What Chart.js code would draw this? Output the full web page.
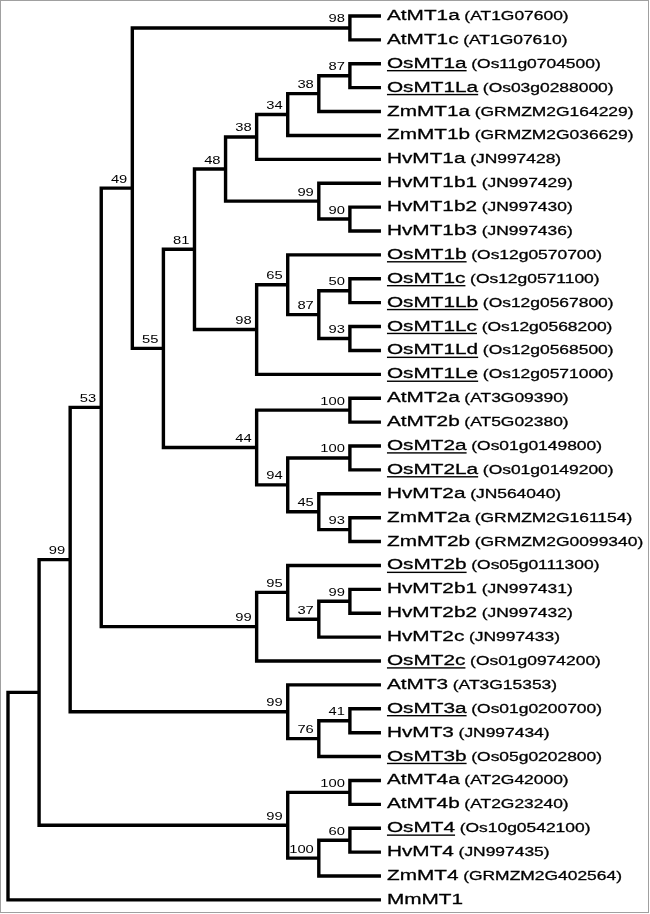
<!DOCTYPE html>
<html>
<head>
<meta charset="utf-8">
<script src="https://cdn.jsdelivr.net/npm/chart.js@4.4.0/dist/chart.umd.min.js"></script>
<style>
  html, body { margin: 0; padding: 0; background: #fff; }
  #wrap { position: relative; width: 650px; height: 914px; }
  #frame { position: absolute; left: 0; top: 0; width: 649px; height: 913px; box-sizing: border-box; border: 1px solid #a0a0a0; pointer-events: none; }
</style>
</head>
<body>
<div id="wrap"><canvas id="tree"></canvas><div id="frame"></div></div>
<script>
// leaves, top to bottom
const leafNames = [
    'AtMT1a', 'AtMT1c', 'OsMT1a', 'OsMT1La', 'ZmMT1a', 'ZmMT1b', 'HvMT1a', 'HvMT1b1',
    'HvMT1b2', 'HvMT1b3', 'OsMT1b', 'OsMT1c', 'OsMT1Lb', 'OsMT1Lc', 'OsMT1Ld', 'OsMT1Le',
    'AtMT2a', 'AtMT2b', 'OsMT2a', 'OsMT2La', 'HvMT2a', 'ZmMT2a', 'ZmMT2b', 'OsMT2b',
    'HvMT2b1', 'HvMT2b2', 'HvMT2c', 'OsMT2c', 'AtMT3', 'OsMT3a', 'HvMT3', 'OsMT3b',
    'AtMT4a', 'AtMT4b', 'OsMT4', 'HvMT4', 'ZmMT4', 'MmMT1'
];
const leafIds = [
    'AT1G07600', 'AT1G07610', 'Os11g0704500', 'Os03g0288000', 'GRMZM2G164229', 'GRMZM2G036629', 'JN997428', 'JN997429',
    'JN997430', 'JN997436', 'Os12g0570700', 'Os12g0571100', 'Os12g0567800', 'Os12g0568200', 'Os12g0568500', 'Os12g0571000',
    'AT3G09390', 'AT5G02380', 'Os01g0149800', 'Os01g0149200', 'JN564040', 'GRMZM2G161154', 'GRMZM2G0099340', 'Os05g0111300',
    'JN997431', 'JN997432', 'JN997433', 'Os01g0974200', 'AT3G15353', 'Os01g0200700', 'JN997434', 'Os05g0202800',
    'AT2G42000', 'AT2G23240', 'Os10g0542100', 'JN997435', 'GRMZM2G402564', ''
];

// internal nodes: id, depth level, bootstrap, children
const nodeIds      = ['n1','n2','n3','n4','n5','n6','n7','n8','n9','n10','n11','n12','n13','n14','n15','n16','n17','n18','n19',
                      'n20','n21','n22','n23','n24','n25','n26','n27','n28','n29','n30','n31','n32','n33','n34','n35','n36','root'];
const nodeLevel    = [11, 11, 10, 9, 8, 11, 10, 7, 11, 11, 10, 9, 8, 6, 11, 11, 11, 10, 9,
                      8, 5, 4, 11, 10, 9, 8, 3, 11, 10, 9, 2, 11, 11, 10, 9, 1, 0];
const nodeSupport  = [98, 87, 38, 34, 38, 90, 99, 48, 50, 93, 87, 65, 98, 81, 100, 100, 93, 45, 94,
                      44, 55, 49, 99, 37, 95, 99, 53, 41, 76, 99, 99, 100, 60, 100, 99, null, null];
const nodeChildren = [
    ['AtMT1a', 'AtMT1c'], ['OsMT1a', 'OsMT1La'], ['n2', 'ZmMT1a'], ['n3', 'ZmMT1b'], ['n4', 'HvMT1a'],
    ['HvMT1b2', 'HvMT1b3'], ['HvMT1b1', 'n6'], ['n5', 'n7'], ['OsMT1c', 'OsMT1Lb'], ['OsMT1Lc', 'OsMT1Ld'],
    ['n9', 'n10'], ['OsMT1b', 'n11'], ['n12', 'OsMT1Le'], ['n8', 'n13'], ['AtMT2a', 'AtMT2b'],
    ['OsMT2a', 'OsMT2La'], ['ZmMT2a', 'ZmMT2b'], ['HvMT2a', 'n17'], ['n16', 'n18'], ['n15', 'n19'],
    ['n14', 'n20'], ['n1', 'n21'], ['HvMT2b1', 'HvMT2b2'], ['n23', 'HvMT2c'], ['OsMT2b', 'n24'],
    ['n25', 'OsMT2c'], ['n22', 'n26'], ['OsMT3a', 'HvMT3'], ['n28', 'OsMT3b'], ['AtMT3', 'n29'],
    ['n27', 'n30'], ['AtMT4a', 'AtMT4b'], ['OsMT4', 'HvMT4'], ['n33', 'ZmMT4'], ['n32', 'n34'],
    ['n31', 'n35'], ['n36', 'MmMT1']
];
const LEAF_LEVEL = 12;

// positions in data units: x = level, y = leaf row
const pos = {};
leafNames.forEach((n, i) => { pos[n] = { x: LEAF_LEVEL, y: i }; });
function place(id) {
    if (pos[id]) return pos[id];
    const k = nodeIds.indexOf(id);
    const ys = nodeChildren[k].map(c => place(c).y);
    pos[id] = { x: nodeLevel[k], y: (ys[0] + ys[ys.length - 1]) / 2 };
    return pos[id];
}
nodeIds.forEach(place);

// one bracket per node
const datasets = nodeIds.map((id, k) => {
    const [a, b] = nodeChildren[k].map(c => pos[c]);
    const n = pos[id];
    return {
        data: [{ x: a.x, y: a.y }, { x: n.x, y: a.y }, { x: n.x, y: b.y }, { x: b.x, y: b.y }],
        showLine: true, borderColor: '#000', borderWidth: 3.4, pointRadius: 0,
        borderJoinStyle: 'miter', borderCapStyle: 'butt', tension: 0, fill: false
    };
});

const STRETCH = 1.34;
const treeText = {
    id: 'treeText',
    afterDatasetsDraw(chart) {
        const { ctx, scales: { x, y } } = chart;
        ctx.save();
        ctx.fillStyle = '#000';
        ctx.strokeStyle = '#000';
        ctx.lineWidth = 0.3;
        ctx.textBaseline = 'alphabetic';

        // leaf labels
        leafNames.forEach((name, i) => {
            const px = x.getPixelForValue(LEAF_LEVEL) + 6;
            const py = y.getPixelForValue(i) + 4;
            ctx.save();
            ctx.translate(px, py);
            ctx.scale(STRETCH, 1);
            ctx.textAlign = 'left';
            ctx.font = '15.5px "Liberation Sans", Arial, sans-serif';
            ctx.fillText(name, 0, 0);
            ctx.strokeText(name, 0, 0);
            const w = ctx.measureText(name).width;
            if (name.startsWith('Os')) ctx.fillRect(0, 2.2, w, 1.4);
            if (leafIds[i]) {
                ctx.font = '13px "Liberation Sans", Arial, sans-serif';
                ctx.fillText('(' + leafIds[i] + ')', w + 3.5, 0);
                ctx.strokeText('(' + leafIds[i] + ')', w + 3.5, 0);
            }
            ctx.restore();
        });

        // bootstrap values
        ctx.font = '11px "Liberation Sans", Arial, sans-serif';
        ctx.textAlign = 'right';
        nodeIds.forEach((id, k) => {
            if (nodeSupport[k] == null) return;
            const px = x.getPixelForValue(pos[id].x) - 5;
            const py = y.getPixelForValue(pos[id].y) - 5.5;
            ctx.save();
            ctx.translate(px, py);
            ctx.scale(STRETCH, 1);
            ctx.fillText(String(nodeSupport[k]), 0, 0);
            ctx.restore();
        });
        ctx.restore();
    }
};

new Chart(document.getElementById('tree').getContext('2d'), {
    type: 'scatter',
    data: { datasets },
    options: {
        responsive: true,
        maintainAspectRatio: false,
        animation: false,
        events: [],
        layout: { padding: 0 },
        plugins: { legend: { display: false }, tooltip: { enabled: false } },
        scales: {
            x: { type: 'linear', display: false, min: -0.2574, max: 20.656 },
            y: { type: 'linear', display: false, reverse: true, min: -0.6697, max: 37.59 }
        }
    },
    plugins: [treeText]
});
</script>
</body>
</html>
